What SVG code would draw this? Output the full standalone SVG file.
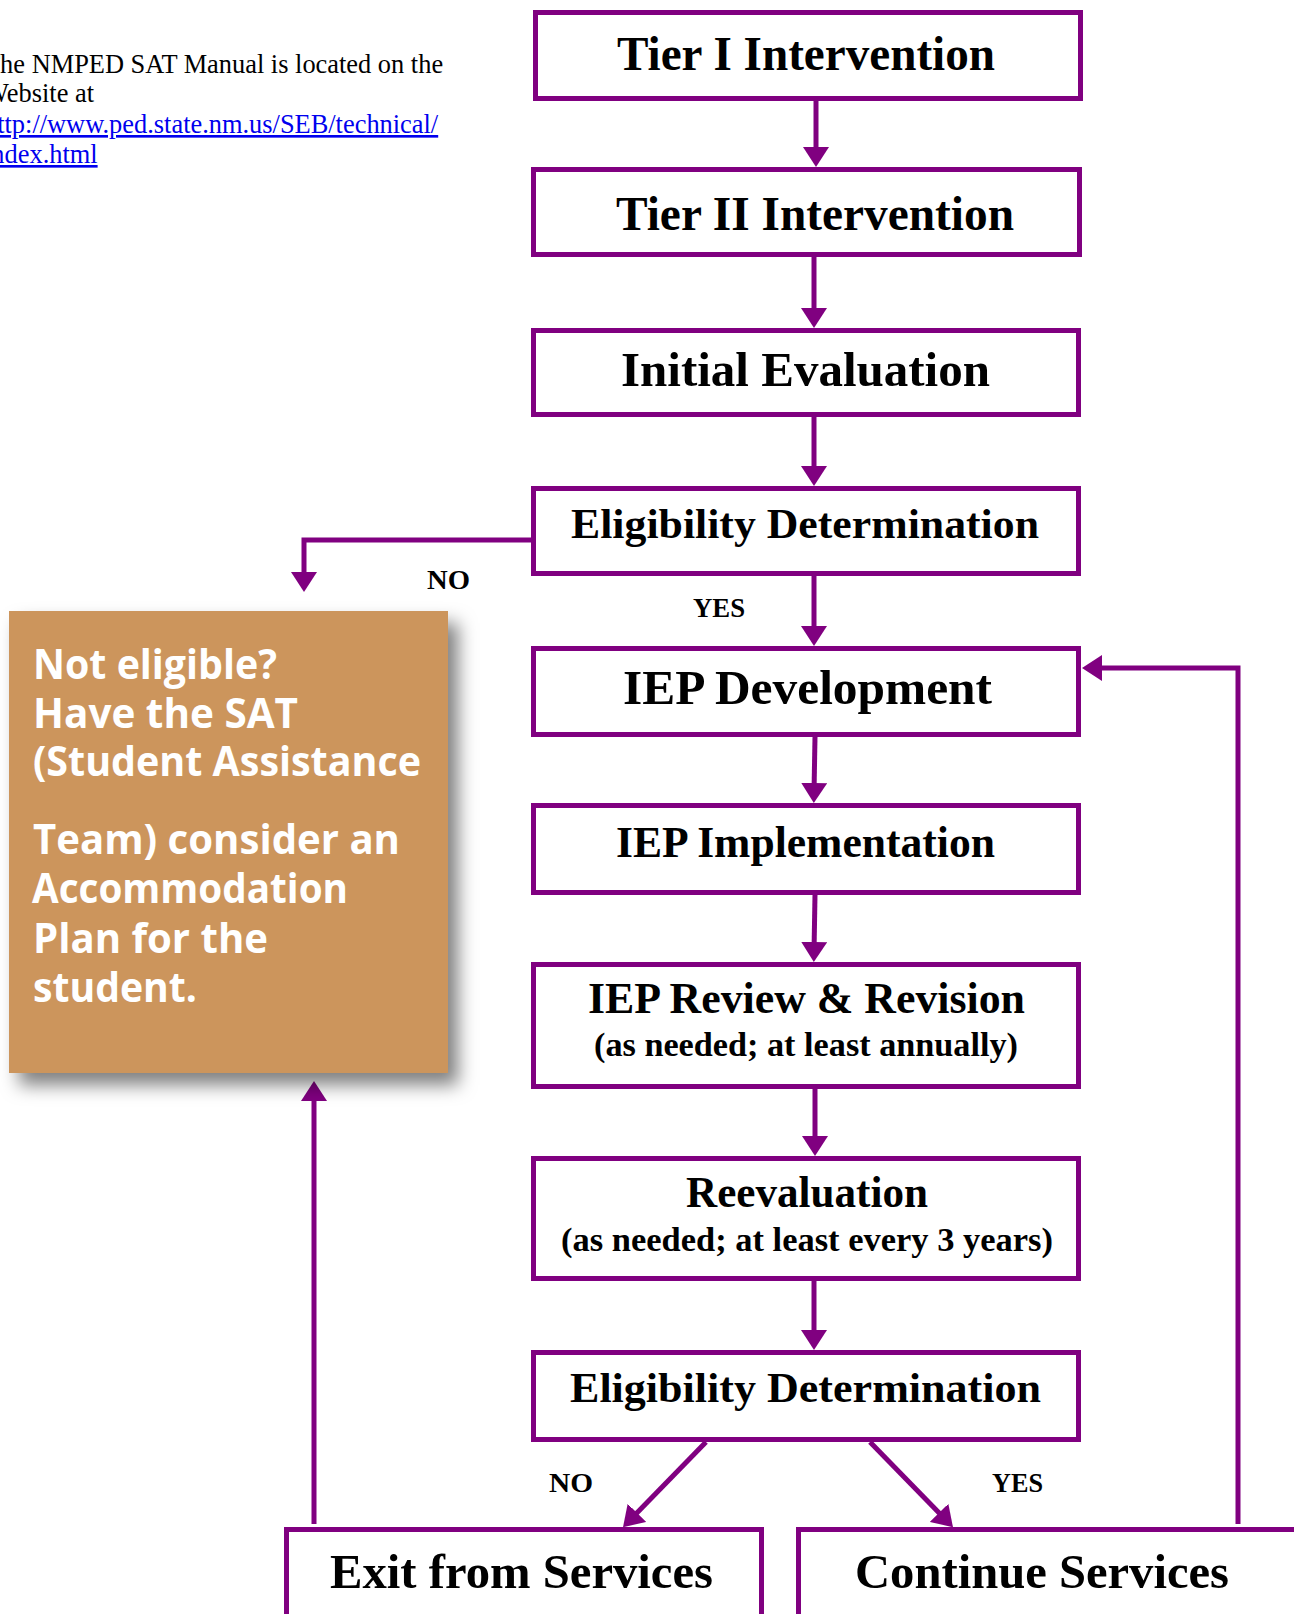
<svg xmlns="http://www.w3.org/2000/svg" width="1294" height="1614" viewBox="0 0 1294 1614">
<style>
.box{fill:#fff;stroke:#800080;stroke-width:5}
.t{font-family:"Liberation Serif","Times New Roman",serif;font-weight:bold;fill:#000}
.c{fill:none;stroke:#800080;stroke-width:5}
.note{font-family:"Liberation Serif","Times New Roman",serif;font-size:26.4px;fill:#000}
.link{fill:#0000ee;text-decoration:underline}
.ot{font-family:"Open Sans","Noto Sans",sans-serif;font-weight:bold;font-size:41px;fill:#fff}
</style>
<defs>
<marker id="ah" viewBox="0 0 20 26" refX="10" refY="13" markerWidth="20" markerHeight="26" markerUnits="userSpaceOnUse" orient="auto">
<path d="M0,0 L20,13 L0,26 z" fill="#800080"/>
</marker>
<filter id="sh" x="-10%" y="-10%" width="130%" height="130%">
<feDropShadow dx="10" dy="12" stdDeviation="9" flood-color="#000" flood-opacity="0.5"/>
</filter>
</defs>
<rect width="1294" height="1614" fill="#fff"/>

<g id="note">
<text class="note" x="-16" y="73">The NMPED SAT Manual is located on the</text>
<text class="note" x="-16" y="102">Website at</text>
<text class="note link" x="-16" y="133">http://www.ped.state.nm.us/SEB/technical/</text>
<text class="note link" x="-16" y="163">index.html</text>
</g>

<g id="connectors">
<path class="c" d="M816,101 V157" marker-end="url(#ah)"/>
<path class="c" d="M814,257 V318" marker-end="url(#ah)"/>
<path class="c" d="M814,417 V476" marker-end="url(#ah)"/>
<path class="c" d="M814,576 V636" marker-end="url(#ah)"/>
<path class="c" d="M815,737 L814,793" marker-end="url(#ah)"/>
<path class="c" d="M815,895 L814,952" marker-end="url(#ah)"/>
<path class="c" d="M815,1089 V1146" marker-end="url(#ah)"/>
<path class="c" d="M814,1281 V1340" marker-end="url(#ah)"/>
<path class="c" d="M531,540 H304 V582" marker-end="url(#ah)"/>
<path class="c" d="M706,1442 L630,1520" marker-end="url(#ah)"/>
<path class="c" d="M870,1442 L946,1520" marker-end="url(#ah)"/>
<path class="c" d="M314,1524 V1091" marker-end="url(#ah)"/>
<path class="c" d="M1238,1524 V668 H1092" marker-end="url(#ah)"/>
<text class="t" x="427" y="589" font-size="28" textLength="43" lengthAdjust="spacingAndGlyphs">NO</text>
<text class="t" x="693" y="617" font-size="27" textLength="52" lengthAdjust="spacingAndGlyphs">YES</text>
<text class="t" x="549" y="1492" font-size="28" textLength="44" lengthAdjust="spacingAndGlyphs">NO</text>
<text class="t" x="992" y="1492" font-size="27" textLength="51" lengthAdjust="spacingAndGlyphs">YES</text>
</g>

<g id="tier1">
<rect class="box" x="535.5" y="12.5" width="545" height="86"/>
<text class="t" x="617" y="70" font-size="48" textLength="378" lengthAdjust="spacingAndGlyphs">Tier I Intervention</text>
</g>
<g id="tier2">
<rect class="box" x="533.5" y="169.5" width="546" height="85"/>
<text class="t" x="616" y="230" font-size="48" textLength="398" lengthAdjust="spacingAndGlyphs">Tier II Intervention</text>
</g>
<g id="initial-evaluation">
<rect class="box" x="533.5" y="330.5" width="545" height="84"/>
<text class="t" x="621" y="386" font-size="49" textLength="369" lengthAdjust="spacingAndGlyphs">Initial Evaluation</text>
</g>
<g id="eligibility-1">
<rect class="box" x="533.5" y="488.5" width="545" height="85"/>
<text class="t" x="571" y="538" font-size="43" textLength="468" lengthAdjust="spacingAndGlyphs">Eligibility Determination</text>
</g>
<g id="iep-development">
<rect class="box" x="533.5" y="648.5" width="545" height="86"/>
<text class="t" x="623" y="704" font-size="49" textLength="369" lengthAdjust="spacingAndGlyphs">IEP Development</text>
</g>
<g id="iep-implementation">
<rect class="box" x="533.5" y="805.5" width="545" height="87"/>
<text class="t" x="616" y="857" font-size="44" textLength="379" lengthAdjust="spacingAndGlyphs">IEP Implementation</text>
</g>
<g id="iep-review">
<rect class="box" x="533.5" y="964.5" width="545" height="122"/>
<text class="t" x="588" y="1013" font-size="44" textLength="437" lengthAdjust="spacingAndGlyphs">IEP Review &amp; Revision</text>
<text class="t" x="594" y="1056" font-size="34" textLength="424" lengthAdjust="spacingAndGlyphs">(as needed; at least annually)</text>
</g>
<g id="reevaluation">
<rect class="box" x="533.5" y="1158.5" width="545" height="120"/>
<text class="t" x="686" y="1207" font-size="44" textLength="242" lengthAdjust="spacingAndGlyphs">Reevaluation</text>
<text class="t" x="561" y="1251" font-size="34" textLength="492" lengthAdjust="spacingAndGlyphs">(as needed; at least every 3 years)</text>
</g>
<g id="eligibility-2">
<rect class="box" x="533.5" y="1352.5" width="545" height="87"/>
<text class="t" x="570" y="1402" font-size="43" textLength="471" lengthAdjust="spacingAndGlyphs">Eligibility Determination</text>
</g>
<g id="exit">
<rect class="box" x="286.5" y="1529.5" width="475" height="100"/>
<text class="t" x="330" y="1588" font-size="48" textLength="383" lengthAdjust="spacingAndGlyphs">Exit from Services</text>
</g>
<g id="continue">
<rect class="box" x="798.5" y="1529.5" width="510" height="100"/>
<text class="t" x="855" y="1588" font-size="48" textLength="374" lengthAdjust="spacingAndGlyphs">Continue Services</text>
</g>

<g id="not-eligible">
<rect x="9" y="611" width="439" height="462" fill="#cc955c" filter="url(#sh)"/>
<text class="ot" x="33" y="679" textLength="244" lengthAdjust="spacingAndGlyphs">Not eligible?</text>
<text class="ot" x="33" y="728" textLength="265" lengthAdjust="spacingAndGlyphs">Have the SAT</text>
<text class="ot" x="33" y="776" textLength="388" lengthAdjust="spacingAndGlyphs">(Student Assistance</text>
<text class="ot" x="33" y="854" textLength="367" lengthAdjust="spacingAndGlyphs">Team) consider an</text>
<text class="ot" x="32" y="903" textLength="316" lengthAdjust="spacingAndGlyphs">Accommodation</text>
<text class="ot" x="33" y="953" textLength="235" lengthAdjust="spacingAndGlyphs">Plan for the</text>
<text class="ot" x="33" y="1002" textLength="164" lengthAdjust="spacingAndGlyphs">student.</text>
</g>
</svg>
